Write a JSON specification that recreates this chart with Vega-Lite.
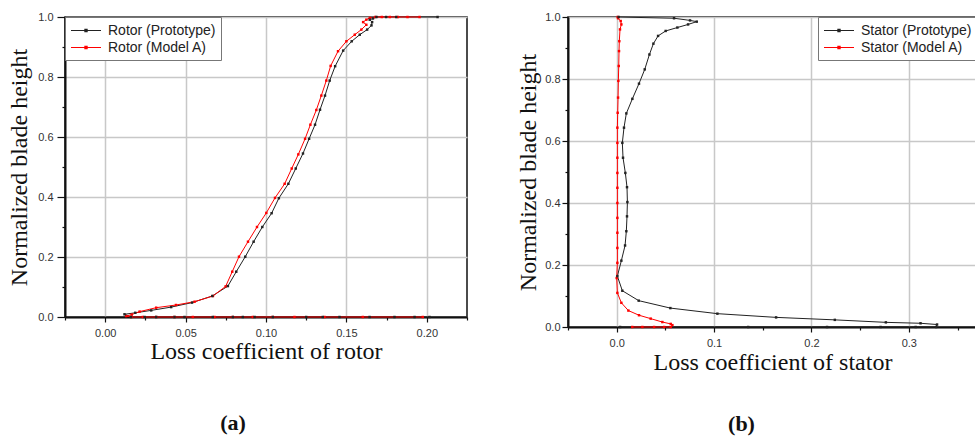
{
  "$schema": "https://vega.github.io/schema/vega-lite/v6.json",
  "padding": {"left": 6, "top": 10, "right": 0, "bottom": 0},
  "background": "white",
  "spacing": 46,
  "datasets": {
    "rotor": [
      {"s": "Rotor (Prototype)", "i": 1, "x": 0.2017, "y": 0},
      {"s": "Rotor (Prototype)", "i": 2, "x": 0.1924, "y": 0},
      {"s": "Rotor (Prototype)", "i": 3, "x": 0.1799, "y": 0},
      {"s": "Rotor (Prototype)", "i": 4, "x": 0.1644, "y": 0},
      {"s": "Rotor (Prototype)", "i": 5, "x": 0.1457, "y": 0},
      {"s": "Rotor (Prototype)", "i": 6, "x": 0.1353, "y": 0},
      {"s": "Rotor (Prototype)", "i": 7, "x": 0.125, "y": 0},
      {"s": "Rotor (Prototype)", "i": 8, "x": 0.1042, "y": 0},
      {"s": "Rotor (Prototype)", "i": 9, "x": 0.0929, "y": 0},
      {"s": "Rotor (Prototype)", "i": 10, "x": 0.0856, "y": 0},
      {"s": "Rotor (Prototype)", "i": 11, "x": 0.0794, "y": 0},
      {"s": "Rotor (Prototype)", "i": 12, "x": 0.0669, "y": 0},
      {"s": "Rotor (Prototype)", "i": 13, "x": 0.0493, "y": 0},
      {"s": "Rotor (Prototype)", "i": 14, "x": 0.0431, "y": 0},
      {"s": "Rotor (Prototype)", "i": 15, "x": 0.0317, "y": 0},
      {"s": "Rotor (Prototype)", "i": 16, "x": 0.0245, "y": 0},
      {"s": "Rotor (Prototype)", "i": 17, "x": 0.016, "y": 0},
      {"s": "Rotor (Prototype)", "i": 18, "x": 0.012, "y": 0.009},
      {"s": "Rotor (Prototype)", "i": 19, "x": 0.0187, "y": 0.014},
      {"s": "Rotor (Prototype)", "i": 20, "x": 0.0286, "y": 0.022},
      {"s": "Rotor (Prototype)", "i": 21, "x": 0.041, "y": 0.033},
      {"s": "Rotor (Prototype)", "i": 22, "x": 0.054, "y": 0.048},
      {"s": "Rotor (Prototype)", "i": 23, "x": 0.0666, "y": 0.07},
      {"s": "Rotor (Prototype)", "i": 24, "x": 0.0763, "y": 0.103},
      {"s": "Rotor (Prototype)", "i": 25, "x": 0.0815, "y": 0.151},
      {"s": "Rotor (Prototype)", "i": 26, "x": 0.0871, "y": 0.201},
      {"s": "Rotor (Prototype)", "i": 27, "x": 0.0923, "y": 0.251},
      {"s": "Rotor (Prototype)", "i": 28, "x": 0.0977, "y": 0.3},
      {"s": "Rotor (Prototype)", "i": 29, "x": 0.1035, "y": 0.346},
      {"s": "Rotor (Prototype)", "i": 30, "x": 0.108, "y": 0.396},
      {"s": "Rotor (Prototype)", "i": 31, "x": 0.1139, "y": 0.444},
      {"s": "Rotor (Prototype)", "i": 32, "x": 0.1185, "y": 0.495},
      {"s": "Rotor (Prototype)", "i": 33, "x": 0.123, "y": 0.545},
      {"s": "Rotor (Prototype)", "i": 34, "x": 0.1268, "y": 0.594},
      {"s": "Rotor (Prototype)", "i": 35, "x": 0.1305, "y": 0.641},
      {"s": "Rotor (Prototype)", "i": 36, "x": 0.1336, "y": 0.691},
      {"s": "Rotor (Prototype)", "i": 37, "x": 0.1367, "y": 0.738},
      {"s": "Rotor (Prototype)", "i": 38, "x": 0.1396, "y": 0.788},
      {"s": "Rotor (Prototype)", "i": 39, "x": 0.143, "y": 0.836},
      {"s": "Rotor (Prototype)", "i": 40, "x": 0.148, "y": 0.888},
      {"s": "Rotor (Prototype)", "i": 41, "x": 0.1533, "y": 0.919},
      {"s": "Rotor (Prototype)", "i": 42, "x": 0.1583, "y": 0.941},
      {"s": "Rotor (Prototype)", "i": 43, "x": 0.1629, "y": 0.958},
      {"s": "Rotor (Prototype)", "i": 44, "x": 0.1656, "y": 0.972},
      {"s": "Rotor (Prototype)", "i": 45, "x": 0.166, "y": 0.983},
      {"s": "Rotor (Prototype)", "i": 46, "x": 0.1645, "y": 0.991},
      {"s": "Rotor (Prototype)", "i": 47, "x": 0.1665, "y": 0.995},
      {"s": "Rotor (Prototype)", "i": 48, "x": 0.1687, "y": 1.0},
      {"s": "Rotor (Prototype)", "i": 49, "x": 0.1747, "y": 1.0},
      {"s": "Rotor (Prototype)", "i": 50, "x": 0.181, "y": 1.0},
      {"s": "Rotor (Prototype)", "i": 51, "x": 0.2067, "y": 1.0},
      {"s": "Rotor (Model A)", "i": 1, "x": 0.1975, "y": 0},
      {"s": "Rotor (Model A)", "i": 2, "x": 0.1602, "y": 0},
      {"s": "Rotor (Model A)", "i": 3, "x": 0.1364, "y": 0},
      {"s": "Rotor (Model A)", "i": 4, "x": 0.1177, "y": 0},
      {"s": "Rotor (Model A)", "i": 5, "x": 0.1042, "y": 0},
      {"s": "Rotor (Model A)", "i": 6, "x": 0.0918, "y": 0},
      {"s": "Rotor (Model A)", "i": 7, "x": 0.0794, "y": 0},
      {"s": "Rotor (Model A)", "i": 8, "x": 0.068, "y": 0},
      {"s": "Rotor (Model A)", "i": 9, "x": 0.0545, "y": 0},
      {"s": "Rotor (Model A)", "i": 10, "x": 0.0431, "y": 0},
      {"s": "Rotor (Model A)", "i": 11, "x": 0.0317, "y": 0},
      {"s": "Rotor (Model A)", "i": 12, "x": 0.0234, "y": 0},
      {"s": "Rotor (Model A)", "i": 13, "x": 0.0162, "y": 0},
      {"s": "Rotor (Model A)", "i": 14, "x": 0.013, "y": 0.003},
      {"s": "Rotor (Model A)", "i": 15, "x": 0.0165, "y": 0.008},
      {"s": "Rotor (Model A)", "i": 16, "x": 0.0214, "y": 0.018},
      {"s": "Rotor (Model A)", "i": 17, "x": 0.0317, "y": 0.031},
      {"s": "Rotor (Model A)", "i": 18, "x": 0.044, "y": 0.04},
      {"s": "Rotor (Model A)", "i": 19, "x": 0.0556, "y": 0.051},
      {"s": "Rotor (Model A)", "i": 20, "x": 0.067, "y": 0.07},
      {"s": "Rotor (Model A)", "i": 21, "x": 0.0749, "y": 0.102},
      {"s": "Rotor (Model A)", "i": 22, "x": 0.079, "y": 0.151},
      {"s": "Rotor (Model A)", "i": 23, "x": 0.0832, "y": 0.201},
      {"s": "Rotor (Model A)", "i": 24, "x": 0.0888, "y": 0.251},
      {"s": "Rotor (Model A)", "i": 25, "x": 0.0944, "y": 0.3},
      {"s": "Rotor (Model A)", "i": 26, "x": 0.1002, "y": 0.347},
      {"s": "Rotor (Model A)", "i": 27, "x": 0.1056, "y": 0.397},
      {"s": "Rotor (Model A)", "i": 28, "x": 0.1116, "y": 0.444},
      {"s": "Rotor (Model A)", "i": 29, "x": 0.116, "y": 0.495},
      {"s": "Rotor (Model A)", "i": 30, "x": 0.1201, "y": 0.542},
      {"s": "Rotor (Model A)", "i": 31, "x": 0.1243, "y": 0.594},
      {"s": "Rotor (Model A)", "i": 32, "x": 0.1276, "y": 0.641},
      {"s": "Rotor (Model A)", "i": 33, "x": 0.1313, "y": 0.69},
      {"s": "Rotor (Model A)", "i": 34, "x": 0.1344, "y": 0.738},
      {"s": "Rotor (Model A)", "i": 35, "x": 0.1375, "y": 0.788},
      {"s": "Rotor (Model A)", "i": 36, "x": 0.1402, "y": 0.837},
      {"s": "Rotor (Model A)", "i": 37, "x": 0.1448, "y": 0.886},
      {"s": "Rotor (Model A)", "i": 38, "x": 0.15, "y": 0.919},
      {"s": "Rotor (Model A)", "i": 39, "x": 0.1552, "y": 0.941},
      {"s": "Rotor (Model A)", "i": 40, "x": 0.1593, "y": 0.958},
      {"s": "Rotor (Model A)", "i": 41, "x": 0.1624, "y": 0.974},
      {"s": "Rotor (Model A)", "i": 42, "x": 0.1604, "y": 0.983},
      {"s": "Rotor (Model A)", "i": 43, "x": 0.1624, "y": 0.991},
      {"s": "Rotor (Model A)", "i": 44, "x": 0.1645, "y": 0.997},
      {"s": "Rotor (Model A)", "i": 45, "x": 0.168, "y": 1.0},
      {"s": "Rotor (Model A)", "i": 46, "x": 0.172, "y": 1.0},
      {"s": "Rotor (Model A)", "i": 47, "x": 0.177, "y": 1.0},
      {"s": "Rotor (Model A)", "i": 48, "x": 0.182, "y": 1.0},
      {"s": "Rotor (Model A)", "i": 49, "x": 0.188, "y": 1.0},
      {"s": "Rotor (Model A)", "i": 50, "x": 0.1955, "y": 1.0}
    ],
    "stator": [
      {"s": "Stator (Prototype)", "i": 1, "x": 0.0035, "y": 0},
      {"s": "Stator (Prototype)", "i": 2, "x": 0.135, "y": 0},
      {"s": "Stator (Prototype)", "i": 3, "x": 0.216, "y": 0},
      {"s": "Stator (Prototype)", "i": 4, "x": 0.271, "y": 0},
      {"s": "Stator (Prototype)", "i": 5, "x": 0.307, "y": 0},
      {"s": "Stator (Prototype)", "i": 6, "x": 0.328, "y": 0},
      {"s": "Stator (Prototype)", "i": 7, "x": 0.329, "y": 0.008},
      {"s": "Stator (Prototype)", "i": 8, "x": 0.312, "y": 0.012},
      {"s": "Stator (Prototype)", "i": 9, "x": 0.2764, "y": 0.015},
      {"s": "Stator (Prototype)", "i": 10, "x": 0.224, "y": 0.023},
      {"s": "Stator (Prototype)", "i": 11, "x": 0.1637, "y": 0.031},
      {"s": "Stator (Prototype)", "i": 12, "x": 0.1034, "y": 0.043},
      {"s": "Stator (Prototype)", "i": 13, "x": 0.0551, "y": 0.061},
      {"s": "Stator (Prototype)", "i": 14, "x": 0.0226, "y": 0.085},
      {"s": "Stator (Prototype)", "i": 15, "x": 0.0058, "y": 0.117},
      {"s": "Stator (Prototype)", "i": 16, "x": 0.0007, "y": 0.164},
      {"s": "Stator (Prototype)", "i": 17, "x": 0.0048, "y": 0.214},
      {"s": "Stator (Prototype)", "i": 18, "x": 0.0086, "y": 0.263},
      {"s": "Stator (Prototype)", "i": 19, "x": 0.0099, "y": 0.309},
      {"s": "Stator (Prototype)", "i": 20, "x": 0.0106, "y": 0.357},
      {"s": "Stator (Prototype)", "i": 21, "x": 0.011, "y": 0.403},
      {"s": "Stator (Prototype)", "i": 22, "x": 0.0106, "y": 0.451},
      {"s": "Stator (Prototype)", "i": 23, "x": 0.0089, "y": 0.497},
      {"s": "Stator (Prototype)", "i": 24, "x": 0.0065, "y": 0.546},
      {"s": "Stator (Prototype)", "i": 25, "x": 0.0058, "y": 0.594},
      {"s": "Stator (Prototype)", "i": 26, "x": 0.0075, "y": 0.643},
      {"s": "Stator (Prototype)", "i": 27, "x": 0.0099, "y": 0.689},
      {"s": "Stator (Prototype)", "i": 28, "x": 0.0161, "y": 0.736},
      {"s": "Stator (Prototype)", "i": 29, "x": 0.0229, "y": 0.785},
      {"s": "Stator (Prototype)", "i": 30, "x": 0.0288, "y": 0.831},
      {"s": "Stator (Prototype)", "i": 31, "x": 0.0336, "y": 0.879},
      {"s": "Stator (Prototype)", "i": 32, "x": 0.0377, "y": 0.914},
      {"s": "Stator (Prototype)", "i": 33, "x": 0.0425, "y": 0.939},
      {"s": "Stator (Prototype)", "i": 34, "x": 0.0503, "y": 0.955},
      {"s": "Stator (Prototype)", "i": 35, "x": 0.0623, "y": 0.966},
      {"s": "Stator (Prototype)", "i": 36, "x": 0.0733, "y": 0.976},
      {"s": "Stator (Prototype)", "i": 37, "x": 0.0822, "y": 0.985},
      {"s": "Stator (Prototype)", "i": 38, "x": 0.0753, "y": 0.989},
      {"s": "Stator (Prototype)", "i": 39, "x": 0.0589, "y": 0.996},
      {"s": "Stator (Prototype)", "i": 40, "x": 0.002, "y": 1.0},
      {"s": "Stator (Model A)", "i": 1, "x": 0.016, "y": 0},
      {"s": "Stator (Model A)", "i": 2, "x": 0.0264, "y": 0},
      {"s": "Stator (Model A)", "i": 3, "x": 0.0384, "y": 0},
      {"s": "Stator (Model A)", "i": 4, "x": 0.0487, "y": 0},
      {"s": "Stator (Model A)", "i": 5, "x": 0.0555, "y": 0},
      {"s": "Stator (Model A)", "i": 6, "x": 0.0572, "y": 0.006},
      {"s": "Stator (Model A)", "i": 7, "x": 0.0555, "y": 0.01},
      {"s": "Stator (Model A)", "i": 8, "x": 0.0469, "y": 0.016},
      {"s": "Stator (Model A)", "i": 9, "x": 0.0349, "y": 0.027},
      {"s": "Stator (Model A)", "i": 10, "x": 0.0229, "y": 0.038},
      {"s": "Stator (Model A)", "i": 11, "x": 0.012, "y": 0.053},
      {"s": "Stator (Model A)", "i": 12, "x": 0.0048, "y": 0.078},
      {"s": "Stator (Model A)", "i": 13, "x": 0.0007, "y": 0.11},
      {"s": "Stator (Model A)", "i": 14, "x": 0.0, "y": 0.158},
      {"s": "Stator (Model A)", "i": 15, "x": 0.0007, "y": 0.207},
      {"s": "Stator (Model A)", "i": 16, "x": 0.0007, "y": 0.255},
      {"s": "Stator (Model A)", "i": 17, "x": 0.0007, "y": 0.304},
      {"s": "Stator (Model A)", "i": 18, "x": 0.0007, "y": 0.352},
      {"s": "Stator (Model A)", "i": 19, "x": 0.0007, "y": 0.4},
      {"s": "Stator (Model A)", "i": 20, "x": 0.0007, "y": 0.449},
      {"s": "Stator (Model A)", "i": 21, "x": 0.0007, "y": 0.497},
      {"s": "Stator (Model A)", "i": 22, "x": 0.0007, "y": 0.546},
      {"s": "Stator (Model A)", "i": 23, "x": 0.0007, "y": 0.594},
      {"s": "Stator (Model A)", "i": 24, "x": 0.0007, "y": 0.643},
      {"s": "Stator (Model A)", "i": 25, "x": 0.001, "y": 0.691},
      {"s": "Stator (Model A)", "i": 26, "x": 0.0014, "y": 0.74},
      {"s": "Stator (Model A)", "i": 27, "x": 0.0017, "y": 0.794},
      {"s": "Stator (Model A)", "i": 28, "x": 0.0021, "y": 0.842},
      {"s": "Stator (Model A)", "i": 29, "x": 0.0024, "y": 0.89},
      {"s": "Stator (Model A)", "i": 30, "x": 0.0027, "y": 0.922},
      {"s": "Stator (Model A)", "i": 31, "x": 0.0034, "y": 0.96},
      {"s": "Stator (Model A)", "i": 32, "x": 0.0048, "y": 0.976},
      {"s": "Stator (Model A)", "i": 33, "x": 0.0041, "y": 0.987},
      {"s": "Stator (Model A)", "i": 34, "x": 0.0014, "y": 0.996},
      {"s": "Stator (Model A)", "i": 35, "x": 0.001, "y": 1.0}
    ]
  },
  "resolve": {"scale": {"color": "independent"}},
  "hconcat": [
    {
      "width": 402,
      "height": 300,
      "data": {"name": "rotor"},
      "title": {"text": "(a)", "orient": "bottom", "anchor": "middle", "frame": "group", "dx": -33, "offset": 50, "font": "Liberation Serif", "fontSize": 22, "fontWeight": "bold", "color": "#111"},
      "mark": {"type": "line", "strokeWidth": 1, "point": {"filled": true, "shape": "square", "size": 6}},
      "encoding": {
        "x": {"field": "x", "type": "quantitative", "scale": {"domain": [-0.025, 0.225], "nice": false, "zero": false},
          "axis": {"title": "Loss coefficient of rotor", "titlePadding": 1,
            "values": [-0.025, 0, 0.025, 0.05, 0.075, 0.1, 0.125, 0.15, 0.175, 0.2, 0.225],
            "labelExpr": "round(datum.value*40) % 2 == 0 ? format(datum.value, '.2f') : ''",
            "tickSize": {"condition": {"test": "round(datum.value*40) % 2 == 0", "value": 5}, "value": 3},
            "gridOpacity": {"condition": {"test": "round(datum.value*40) % 2 == 0", "value": 1}, "value": 0},
            "labelPadding": 5}},
        "y": {"field": "y", "type": "quantitative", "scale": {"domain": [0, 1], "nice": false},
          "axis": {"title": "Normalized blade height", "titlePadding": 6,
            "values": [0, 0.1, 0.2, 0.3, 0.4, 0.5, 0.6, 0.7, 0.8, 0.9, 1.0],
            "labelExpr": "round(datum.value*10) % 2 == 0 ? format(datum.value, '.1f') : ''",
            "tickSize": {"condition": {"test": "round(datum.value*10) % 2 == 0", "value": 8}, "value": 3},
            "gridOpacity": {"condition": {"test": "round(datum.value*10) % 2 == 0", "value": 1}, "value": 0},
            "labelPadding": 4}},
        "color": {"field": "s", "type": "nominal",
          "scale": {"domain": ["Rotor (Prototype)", "Rotor (Model A)"], "range": ["#222222", "#ff0000"]},
          "legend": {"orient": "top-left", "offset": 0, "title": null, "labelFontSize": 14}},
        "order": {"field": "i", "type": "quantitative"}
      }
    },
    {
      "width": 409,
      "height": 310,
      "data": {"name": "stator"},
      "title": {"text": "(b)", "orient": "bottom", "anchor": "middle", "frame": "group", "dx": -31, "offset": 40, "font": "Liberation Serif", "fontSize": 22, "fontWeight": "bold", "color": "#111"},
      "mark": {"type": "line", "strokeWidth": 1, "point": {"filled": true, "shape": "square", "size": 6}},
      "encoding": {
        "x": {"field": "x", "type": "quantitative", "scale": {"domain": [-0.05, 0.37], "nice": false, "zero": false},
          "axis": {"title": "Loss coefficient of stator", "titlePadding": 2,
            "values": [-0.05, 0, 0.05, 0.1, 0.15, 0.2, 0.25, 0.3, 0.35],
            "labelExpr": "round(datum.value*20) % 2 == 0 ? format(datum.value, '.1f') : ''",
            "tickSize": {"condition": {"test": "round(datum.value*20) % 2 == 0", "value": 5}, "value": 3},
            "gridOpacity": {"condition": {"test": "round(datum.value*20) % 2 == 0", "value": 1}, "value": 0},
            "labelPadding": 5}},
        "y": {"field": "y", "type": "quantitative", "scale": {"domain": [0, 1], "nice": false},
          "axis": {"title": "Normalized blade height", "titlePadding": 4,
            "values": [0, 0.1, 0.2, 0.3, 0.4, 0.5, 0.6, 0.7, 0.8, 0.9, 1.0],
            "labelExpr": "round(datum.value*10) % 2 == 0 ? format(datum.value, '.1f') : ''",
            "tickSize": {"condition": {"test": "round(datum.value*10) % 2 == 0", "value": 6}, "value": 3},
            "gridOpacity": {"condition": {"test": "round(datum.value*10) % 2 == 0", "value": 1}, "value": 0},
            "labelPadding": 2}},
        "color": {"field": "s", "type": "nominal",
          "scale": {"domain": ["Stator (Prototype)", "Stator (Model A)"], "range": ["#222222", "#ff0000"]},
          "legend": {"orient": "top-right", "offset": 0, "title": null, "labelFontSize": 14}},
        "order": {"field": "i", "type": "quantitative"}
      }
    }
  ],
  "config": {
    "view": {"stroke": "#111", "strokeWidth": 1.5},
    "axis": {
      "labelFont": "Liberation Sans", "labelFontSize": 11, "labelColor": "#333",
      "labelFlush": false, "labelOverlap": false,
      "titleFont": "Liberation Serif", "titleFontSize": 24, "titleFontWeight": "normal", "titleColor": "#111",
      "domainColor": "#111", "domainWidth": 2,
      "tickColor": "#111", "tickWidth": 1.2,
      "gridColor": "#c8c8c8", "gridWidth": 1.5
    },
    "legend": {
      "labelFont": "Liberation Sans", "labelFontSize": 14, "labelColor": "#222", "labelOffset": 21,
      "strokeColor": "#777", "fillColor": "white", "padding": 5, "rowPadding": 1,
      "symbolType": "M-1,0H3M0.85,-0.15H1.15V0.15H0.85Z", "symbolSize": 225, "symbolStrokeWidth": 1.1
    }
  }
}
